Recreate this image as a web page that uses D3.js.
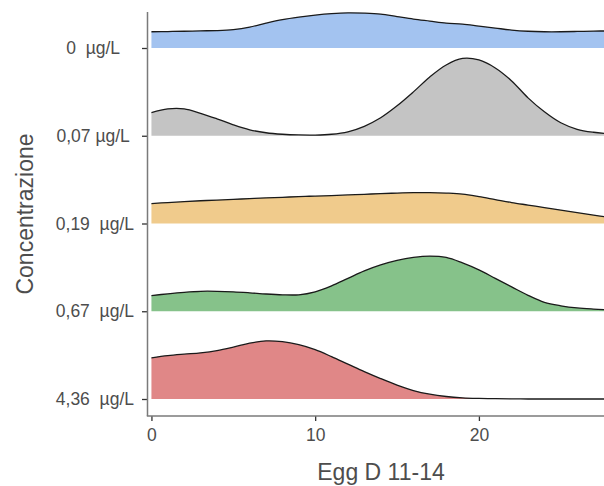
<!DOCTYPE html>
<html>
<head>
<meta charset="utf-8">
<script src="https://cdn.jsdelivr.net/npm/d3@7"></script>
<style>
  body { margin: 0; background: #fff; }
  text { font-family: "Liberation Sans", Arial, sans-serif; }
</style>
</head>
<body>
<div id="my_dataviz"></div>
<script>
// concentration groups, top to bottom (trailing spaces are part of the labels)
var concLabels = ["0  µg/L   ", "0,07 µg/L ", "0,19  µg/L", "0,67  µg/L", "4,36  µg/L"];
var ridgeColors = ["#a3c3f0", "#c4c4c4", "#f0cb8c", "#86c28a", "#e08787"];

// x grid where the densities were read
var eggGrid = [0, 1, 2, 3, 4, 5, 6, 7, 8, 9, 10, 11, 12, 13, 14, 15, 16, 17, 18, 19, 20, 21, 22, 23, 24, 25, 26, 27, 28];

// scaled density heights (88 = one row gap)
var dens0 = [16.3, 16.5, 16.8, 17.2, 17.5, 18.5, 21, 25, 28.5, 31, 33, 34.5, 35.3, 35, 34, 31.5, 29, 27, 25, 24, 22, 20, 18, 16.8, 16.3, 16.3, 16.6, 17, 17];
var dens007 = [23.3, 27, 27, 22.5, 17, 11, 6, 3, 1.5, 0.8, 0.7, 1.5, 4, 9.5, 18, 30, 44, 59, 71, 77.5, 76, 68, 55, 38, 24, 13, 6.5, 3.5, 2];
var dens019 = [20, 21, 22, 22.8, 23.5, 24.2, 25, 25.7, 26.3, 27, 27.5, 28, 28.7, 29.3, 30, 30.5, 31, 31, 30.5, 29.5, 27, 24, 21, 18.5, 16, 13.5, 11, 8.5, 6];
var dens067 = [15.7, 17.5, 19, 20, 20, 19.5, 18.5, 17.3, 16.5, 16.5, 19.5, 25.5, 33, 40.5, 46.5, 51, 54, 55.3, 54, 48.5, 41.5, 33, 24.5, 16, 9, 5.5, 3.3, 2.2, 1.5];
var dens436 = [41.3, 43.5, 45, 46.3, 48.5, 52, 56, 58.3, 57.5, 54.5, 49.5, 42.5, 35, 27.5, 20.5, 14, 8.5, 4.8, 2.5, 1.2, 0.6, 0.3, 0.1, 0, 0, 0, 0, 0, 0];

var xTicks = [0, 10, 20];

var allDens = [dens0, dens007, dens019, dens067, dens436];

// set the dimensions and margins of the graph
var margin = { top: 12, right: 0, bottom: 70, left: 148 },
  width = 604 - margin.left - margin.right,
  height = 486 - margin.top - margin.bottom;

var svg = d3
  .select("#my_dataviz")
  .append("svg")
  .attr("width", 604)
  .attr("height", 486)
  .append("g")
  .attr("transform", "translate(" + margin.left + "," + margin.top + ")");

svg.append("clipPath").attr("id", "panel")
  .append("rect").attr("width", width).attr("height", height);

// scales
var x = d3.scaleLinear().domain([-0.21, 27.64]).range([0, width]);
var y = d3.scalePoint().domain(concLabels).range([36, 387]);
var step = y.step();
var h = d3.scaleLinear().domain([0, 88]).range([0, step]);

// ridges
var ridges = svg.append("g").attr("clip-path", "url(#panel)");

allDens.forEach(function (dens, i) {
  var base = y(concLabels[i]);
  var pts = eggGrid.map(function (g, j) { return [g, dens[j]]; });

  var area = d3.area()
    .x(function (d) { return x(d[0]); })
    .y0(base)
    .y1(function (d) { return base - h(d[1]); })
    .curve(d3.curveCatmullRom);

  var line = d3.line()
    .x(function (d) { return x(d[0]); })
    .y(function (d) { return base - h(d[1]); })
    .curve(d3.curveCatmullRom);

  ridges.append("path").datum(pts)
    .attr("d", area)
    .style("fill", ridgeColors[i]);

  ridges.append("path").datum(pts)
    .attr("d", line)
    .style("fill", "none")
    .style("stroke", "#1a1a1a")
    .style("stroke-width", 1.3);
});

// y axis
var yAxis = svg.append("g")
  .call(d3.axisLeft(y).tickSize(6).tickPadding(8));
yAxis.select(".domain").remove();
yAxis.selectAll(".tick line").style("stroke", "#333").style("stroke-width", 1.3);
yAxis.selectAll(".tick text")
  .attr("xml:space", "preserve")
  .style("white-space", "pre")
  .style("font-size", "17.5px")
  .style("fill", "#4d4d4d");

// x axis
var xAxis = svg.append("g")
  .attr("transform", "translate(0," + height + ")")
  .call(d3.axisBottom(x).tickValues(xTicks).tickSize(5).tickPadding(8));
xAxis.select(".domain").remove();
xAxis.selectAll(".tick line").style("stroke", "#333").style("stroke-width", 1.3);
xAxis.selectAll(".tick text")
  .style("font-size", "17.5px")
  .style("fill", "#4d4d4d");

// axis lines
svg.append("line")
  .attr("x1", -0.5).attr("x2", -0.5).attr("y1", 0).attr("y2", height)
  .style("stroke", "#7a7a7a").style("stroke-width", 1.5);
svg.append("line")
  .attr("x1", -1.2).attr("x2", width).attr("y1", height).attr("y2", height)
  .style("stroke", "#7a7a7a").style("stroke-width", 1.5);

// axis titles
svg.append("text")
  .attr("x", 233)
  .attr("y", 480 - margin.top)
  .attr("text-anchor", "middle")
  .style("font-size", "23px")
  .style("fill", "#4d4d4d")
  .text("Egg D 11-14");

svg.append("text")
  .attr("transform", "translate(" + (33 - margin.left) + "," + (214 - margin.top) + ") rotate(-90)")
  .attr("text-anchor", "middle")
  .style("font-size", "23px")
  .style("fill", "#4d4d4d")
  .text("Concentrazione");
</script>
</body>
</html>
